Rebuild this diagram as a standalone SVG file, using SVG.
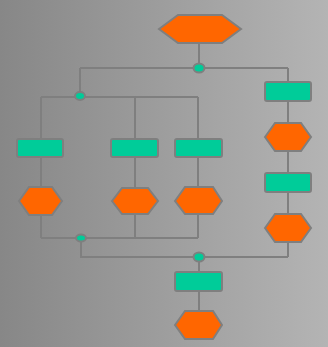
<svg xmlns="http://www.w3.org/2000/svg" width="328" height="347" viewBox="0 0 328 347">
  <defs>
    <linearGradient id="bg" x1="0" y1="0" x2="1" y2="0">
      <stop offset="0" stop-color="#878787"/>
      <stop offset="1" stop-color="#b4b4b4"/>
    </linearGradient>
  </defs>
  <style>
    .ln{fill:none;stroke:#7f7f7f;stroke-width:2}
    .box{fill:#00cc99;stroke:#7f7f7f;stroke-width:2}
    .hex{fill:#ff6600;stroke:#7f7f7f;stroke-width:2}
    .dot{fill:#00cc99;stroke:#7f7f7f;stroke-width:2}
  </style>
  <rect width="328" height="347" fill="url(#bg)"/>
  <g id="connectors">
    <path class="ln" d="M199 43V68M80 68H288M80 68V97M41 97H198M41 97V238M135 97V238M198 97V238M41 238H198M81 238V257H288M288 68V257M199 257V325"/>
  </g>
  <g id="start"><polygon class="hex" points="159,29 178,15 222,15 241,29 222,43 178,43"/></g>
  <g id="fork1"><ellipse class="dot" cx="199" cy="68" rx="5.5" ry="4.5"/></g>
  <g id="fork2"><ellipse class="dot" cx="80" cy="96" rx="5" ry="4"/></g>
  <g id="boxL"><rect class="box" x="17" y="139" width="46" height="18" rx="2"/></g>
  <g id="hexL"><polygon class="hex" points="19,201 29,187 52,187 62,201 52,215 29,215"/></g>
  <g id="boxM"><rect class="box" x="111" y="139" width="47" height="18" rx="2"/></g>
  <g id="hexM"><polygon class="hex" points="112,201 122,188 148,188 158,201 148,214 122,214"/></g>
  <g id="boxR"><rect class="box" x="175" y="139" width="47" height="18" rx="2"/></g>
  <g id="hexR"><polygon class="hex" points="175,201 185,187 213,187 222,201 213,214 185,214"/></g>
  <g id="box1"><rect class="box" x="265" y="82" width="46" height="19" rx="2"/></g>
  <g id="hex1"><polygon class="hex" points="265,137 275,123 301,123 311,137 301,151 275,151"/></g>
  <g id="box2"><rect class="box" x="265" y="173" width="46" height="19" rx="2"/></g>
  <g id="hex2"><polygon class="hex" points="265,228 275,214 301,214 311,228 301,242 275,242"/></g>
  <g id="join1"><ellipse class="dot" cx="81" cy="238" rx="5" ry="3.5"/></g>
  <g id="join2"><ellipse class="dot" cx="199" cy="257" rx="5.5" ry="4.5"/></g>
  <g id="box3"><rect class="box" x="175" y="272" width="47" height="19" rx="2"/></g>
  <g id="end"><polygon class="hex" points="175,325 185,311 213,311 222,325 213,339 185,339"/></g>
</svg>
